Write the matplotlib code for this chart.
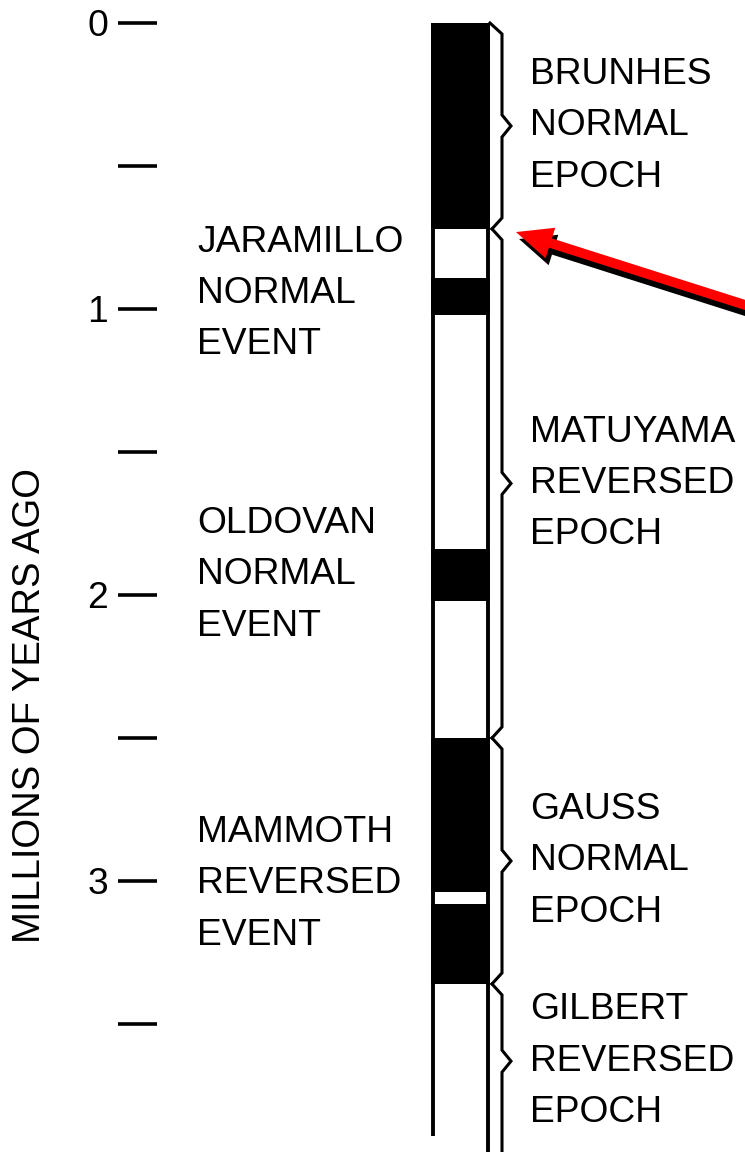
import matplotlib.pyplot as plt
import matplotlib.patheffects as pe

# Polarity column: normal (black) intervals, in millions of years ago
normal_top = [0.00, 0.89, 1.84, 2.50, 3.08]
normal_bottom = [0.72, 1.02, 2.02, 3.04, 3.36]

# Epochs (braces on the right)
epoch_names = ['BRUNHES\nNORMAL\nEPOCH', 'MATUYAMA\nREVERSED\nEPOCH',
               'GAUSS\nNORMAL\nEPOCH', 'GILBERT\nREVERSED\nEPOCH']
epoch_bounds = [0.00, 0.72, 2.50, 3.36, 3.90]

# Events (labels on the left)
event_names = ['JARAMILLO\nNORMAL\nEVENT', 'OLDOVAN\nNORMAL\nEVENT',
               'MAMMOTH\nREVERSED\nEVENT']
event_label_y = [0.945, 1.93, 3.01]

major_ticks = [0, 1, 2, 3]
minor_ticks = [0.5, 1.5, 2.5, 3.5]

plt.rcParams['font.family'] = ['Liberation Sans', 'DejaVu Sans']
fs = 26.8

fig = plt.figure(figsize=(7.45, 11.52), dpi=100)
ax = fig.add_axes([0, 0, 1, 1])
ax.set_xlim(0, 745)
ax.set_ylim(3.9476, -0.0804)

for s in ax.spines.values():
    s.set_visible(False)
ax.spines['left'].set_position(('data', 157))
ax.set_xticks([])
ax.set_yticks(major_ticks, labels=[str(t) for t in major_ticks])
ax.set_yticks(minor_ticks, minor=True)
ax.tick_params(axis='y', which='both', direction='out', length=28, width=2.6,
               pad=7.2, labelsize=fs)

ax.text(30, 2.388, 'MILLIONS OF YEARS AGO', rotation=90, ha='center',
        va='center', fontsize=27.5)

# column
heights = [b - t for t, b in zip(normal_top, normal_bottom)]
ax.barh(normal_top, 59, height=heights, left=431, align='edge',
        color='black', linewidth=0)
ax.vlines(433, 0, 3.89, color='black', lw=2.8)
ax.vlines(488, 0, 3.95, color='black', lw=2.8)

# braces
d = 11 / 286.0
for i in range(len(epoch_names)):
    a, b = epoch_bounds[i], epoch_bounds[i + 1]
    m = (a + b) / 2
    xs = [490 if a == 0 else 492, 502, 502, 511, 502]
    ys = [a, a + d, m - d, m, m + d]
    if i < len(epoch_names) - 1:
        xs += [502, 492]
        ys += [b - d, b]
    else:
        xs += [502]
        ys += [3.96]
    ax.plot(xs, ys, color='black', lw=2.2, solid_joinstyle='miter')
    ax.text(530, m, epoch_names[i], ha='left', va='center', fontsize=fs,
            linespacing=1.6)

for name, y in zip(event_names, event_label_y):
    ax.text(197, y, name, ha='left', va='center', fontsize=fs, linespacing=1.6)

# arrow pointing at the Brunhes/Matuyama boundary
ax.annotate('', xy=(516, 0.731), xytext=(800, 1.047),
            arrowprops=dict(arrowstyle='simple,head_length=2.6,head_width=2.3,tail_width=0.7',
                            mutation_scale=10, color='red', lw=0,
                            shrinkA=0, shrinkB=0,
                            path_effects=[pe.SimplePatchShadow(offset=(2.2, -5), shadow_rgbFace='black', alpha=1),
                                          pe.Normal()]))

fig.savefig('out.png', dpi=100)
